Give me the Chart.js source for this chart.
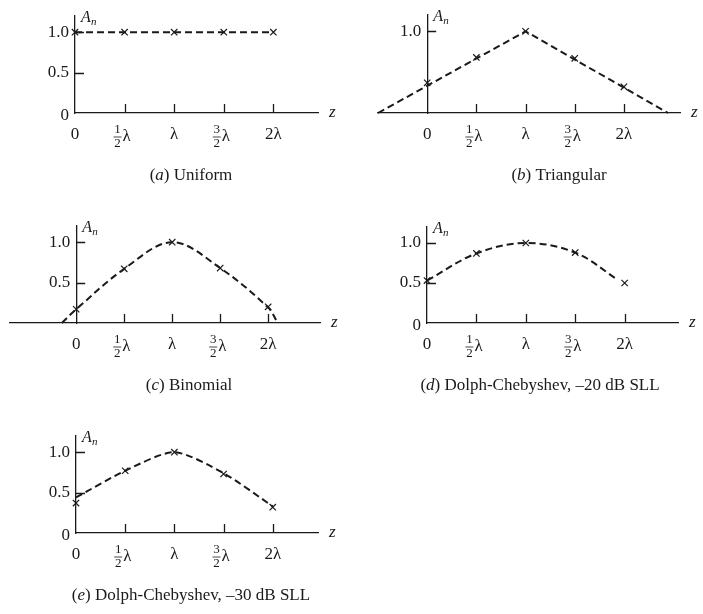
<!DOCTYPE html>
<html>
<head>
<meta charset="utf-8">
<script src="https://cdn.jsdelivr.net/npm/chart.js@4.4.1/dist/chart.umd.min.js"></script>
<style>
  body { margin: 0; background: #fff; width: 703px; height: 614px; position: relative; overflow: hidden; }
  canvas { position: absolute; }
</style>
</head>
<body>
<canvas id="uniform" width="350" height="200" style="left:0;top:0"></canvas>
<canvas id="triangular" width="353" height="200" style="left:350px;top:0"></canvas>
<canvas id="binomial" width="350" height="200" style="left:0;top:200px"></canvas>
<canvas id="cheb20" width="353" height="200" style="left:350px;top:200px"></canvas>
<canvas id="cheb30" width="350" height="214" style="left:0;top:400px"></canvas>
<script>
// element positions along the array (in wavelengths) and their axis labels
const zTicks = [0, 0.5, 1, 1.5, 2];
const zTickLabels = ['0', '1/2λ', 'λ', '3/2λ', '2λ'];

// excitation amplitude A_n of each element
const uniformAn = [1, 1, 1, 1, 1];
const triangularAn = [0.37, 0.68, 1, 0.67, 0.32];
const binomialAn = [0.17, 0.67, 1, 0.68, 0.2];
const cheb20An = [0.53, 0.87, 1, 0.88, 0.5];
const cheb30An = [0.37, 0.77, 1, 0.73, 0.32];

// dashed envelope drawn through each distribution
const uniformEnvZ = [0, 2];
const uniformEnvA = [1, 1];
const triangularEnvZ = [-0.5, 1, 2.45];
const triangularEnvA = [0, 1, 0];
const binomialEnvZ = [-0.15, 0, 0.5, 1, 1.5, 2, 2.1];
const binomialEnvA = [0, 0.17, 0.67, 1, 0.68, 0.19, 0];
const cheb20EnvZ = [0, 0.5, 1, 1.5, 1.93];
const cheb20EnvA = [0.53, 0.87, 1, 0.88, 0.54];
const cheb30EnvZ = [0, 0.5, 1, 1.5, 2];
const cheb30EnvA = [0.44, 0.77, 1, 0.74, 0.33];

const ink = '#1a1a1a';
const serif = '"Liberation Serif", "DejaVu Serif", serif';

const zip = (xs, ys) => xs.map((v, i) => ({x: v, y: ys[i]}));
const fmtY = v => v === 0 ? '0' : v.toFixed(1);

function drawZLabel(ctx, text, px, py) {
  const m = text.match(/^(\d)\/(\d)(.*)$/);
  ctx.textBaseline = 'middle';
  if (!m) {
    ctx.font = `17px ${serif}`;
    ctx.textAlign = 'center';
    ctx.fillText(text, px, py);
    return;
  }
  // stacked fraction followed by the symbol
  ctx.font = `13px ${serif}`;
  ctx.textAlign = 'center';
  ctx.fillText(m[1], px - 7, py - 5);
  ctx.fillText(m[2], px - 7, py + 9);
  ctx.lineWidth = 0.8;
  ctx.beginPath();
  ctx.moveTo(px - 11, py + 2);
  ctx.lineTo(px - 3, py + 2);
  ctx.stroke();
  ctx.font = `17px ${serif}`;
  ctx.textAlign = 'left';
  ctx.fillText(m[3], px - 2, py + 2);
}

function drawCaption(ctx, text, cx, cy) {
  // "(a) Uniform" -> italic letter inside the brackets
  const m = text.match(/^\((\w)\)(.*)$/);
  const parts = [['(', false], [m[1], true], [')' + m[2], false]];
  let w = 0;
  parts.forEach(p => {
    ctx.font = `${p[1] ? 'italic ' : ''}17px ${serif}`;
    w += ctx.measureText(p[0]).width;
  });
  let xx = cx - w / 2;
  ctx.textAlign = 'left';
  ctx.textBaseline = 'middle';
  parts.forEach(p => {
    ctx.font = `${p[1] ? 'italic ' : ''}17px ${serif}`;
    ctx.fillText(p[0], xx, cy);
    xx += ctx.measureText(p[0]).width;
  });
}

const figureMarks = {
  id: 'figureMarks',
  afterDraw(chart, args, o) {
    const {ctx, chartArea, scales: {x, y}} = chart;
    const ax = x.getPixelForValue(0);
    const ay = y.getPixelForValue(0);
    ctx.save();
    ctx.strokeStyle = ink;
    ctx.fillStyle = ink;
    ctx.lineWidth = 1.3;
    ctx.beginPath();
    zTicks.forEach(v => {
      if (v === 0) return;
      const px = Math.round(x.getPixelForValue(v)) + 0.5;
      ctx.moveTo(px, ay);
      ctx.lineTo(px, ay - 9);
    });
    o.yTicks.forEach(v => {
      if (v === 0) return;
      const py = Math.round(y.getPixelForValue(v)) + 0.5;
      ctx.moveTo(ax, py);
      ctx.lineTo(ax + 9, py);
    });
    ctx.stroke();

    zTicks.forEach((v, i) => drawZLabel(ctx, zTickLabels[i], x.getPixelForValue(v), ay + 22));

    ctx.font = `17px ${serif}`;
    ctx.textAlign = 'right';
    ctx.textBaseline = 'middle';
    o.yTicks.forEach(v => {
      ctx.fillText(fmtY(v), ax - 6, y.getPixelForValue(v) + (v === 0 ? 3 : 0));
    });

    // axis names
    ctx.font = `italic 17px ${serif}`;
    ctx.textAlign = 'left';
    ctx.fillText('z', chartArea.right + 11, ay);
    ctx.textBaseline = 'alphabetic';
    ctx.font = `italic 16px ${serif}`;
    ctx.fillText('A', ax + 6, chartArea.top + 6);
    ctx.font = `italic 11px ${serif}`;
    ctx.fillText('n', ax + 16, chartArea.top + 9);

    drawCaption(ctx, o.caption, o.captionX, ay + 63);
    ctx.restore();
  }
};

function panel(id, cfg) {
  new Chart(id, {
    type: 'scatter',
    data: {
      datasets: [{
        type: 'line',
        data: zip(cfg.envZ, cfg.envA),
        borderColor: ink,
        borderWidth: 2,
        borderDash: [7, 4],
        pointRadius: 0,
        tension: cfg.tension,
        fill: false,
        clip: false
      }, {
        data: zip(zTicks, cfg.an),
        pointStyle: 'crossRot',
        pointRadius: 4.5,
        borderColor: ink,
        borderWidth: 1.2,
        showLine: false,
        clip: false
      }]
    },
    options: {
      responsive: false,
      animation: false,
      events: [],
      layout: {padding: cfg.padding},
      plugins: {
        legend: {display: false},
        tooltip: {enabled: false},
        figureMarks: {yTicks: cfg.yTicks, caption: cfg.caption, captionX: cfg.captionX}
      },
      scales: {
        x: {
          type: 'linear',
          min: cfg.zMin,
          max: cfg.zMax,
          grid: {display: false, drawTicks: false},
          ticks: {display: false},
          border: {color: ink, width: 1.3}
        },
        y: {
          min: 0,
          max: 1.2,
          position: {x: 0},
          grid: {display: false, drawTicks: false},
          ticks: {display: false},
          border: {color: ink, width: 1.3}
        }
      }
    },
    plugins: [figureMarks]
  });
}

panel('uniform', {
  envZ: uniformEnvZ, envA: uniformEnvA, an: uniformAn, tension: 0,
  zMin: 0, zMax: 2.45, yTicks: [0, 0.5, 1.0],
  padding: {left: 75, right: 32, top: 16, bottom: 87},
  caption: '(a) Uniform', captionX: 191
});
panel('triangular', {
  envZ: triangularEnvZ, envA: triangularEnvA, an: triangularAn, tension: 0,
  zMin: -0.5, zMax: 2.57, yTicks: [1.0],
  padding: {left: 28, right: 23, top: 15, bottom: 87},
  caption: '(b) Triangular', captionX: 209
});
panel('binomial', {
  envZ: binomialEnvZ, envA: binomialEnvA, an: binomialAn, tension: 0.35,
  zMin: -0.69, zMax: 2.54, yTicks: [0.5, 1.0],
  padding: {left: 10, right: 30, top: 26, bottom: 77},
  caption: '(c) Binomial', captionX: 189
});
panel('cheb20', {
  envZ: cheb20EnvZ, envA: cheb20EnvA, an: cheb20An, tension: 0.35,
  zMin: 0, zMax: 2.54, yTicks: [0, 0.5, 1.0],
  padding: {left: 77, right: 25, top: 27, bottom: 77},
  caption: '(d) Dolph-Chebyshev, –20 dB SLL', captionX: 190
});
panel('cheb30', {
  envZ: cheb30EnvZ, envA: cheb30EnvA, an: cheb30An, tension: 0.25,
  zMin: 0, zMax: 2.46, yTicks: [0, 0.5, 1.0],
  padding: {left: 76, right: 32, top: 36, bottom: 81},
  caption: '(e) Dolph-Chebyshev, –30 dB SLL', captionX: 191
});
</script>
</body>
</html>
